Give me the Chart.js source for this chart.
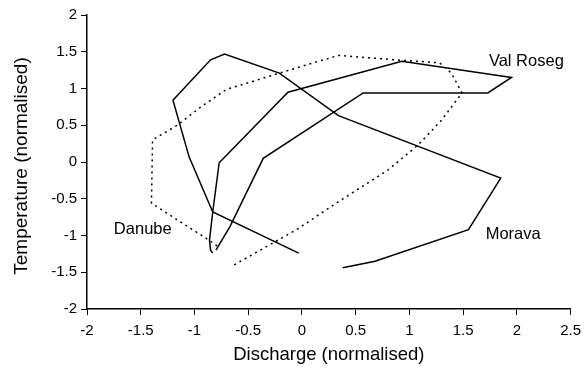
<!DOCTYPE html>
<html><head><meta charset="utf-8">
<script src="https://cdn.jsdelivr.net/npm/chart.js@4/dist/chart.umd.min.js"></script>
<style>html,body{margin:0;padding:0;background:#fff;}#wrap{width:588px;height:378px;}</style>
</head><body><div id="wrap"><canvas id="c" width="588" height="378"></canvas></div>
<script>
// Data (normalised discharge vs normalised temperature)
const moravaX = [-0.03, -0.83, -1.05, -1.20, -0.85, -0.72, -0.21, 0.34, 1.85, 1.55, 0.68, 0.38];
const moravaY = [-1.24, -0.68, 0.07, 0.84, 1.39, 1.47, 1.21, 0.63, -0.22, -0.92, -1.35, -1.44];
const valRosegX = [-0.80, -0.67, -0.36, 0.57, 1.73, 1.95, 0.93, -0.13, -0.77, -0.83, -0.86, -0.85, -0.83];
const valRosegY = [-1.20, -0.88, 0.05, 0.94, 0.94, 1.15, 1.37, 0.95, -0.01, -0.68, -1.06, -1.20, -1.24];
const danubeX = [-0.63, -0.05, 0.34, 0.80, 1.08, 1.30, 1.49, 1.39, 1.28, 0.87, 0.34, -0.05, -0.21, -0.47, -0.70, -0.94, -1.16, -1.39, -1.40, -1.06, -0.91, -0.76];
const danubeY = [-1.40, -0.92, -0.54, -0.11, 0.23, 0.57, 0.94, 1.21, 1.35, 1.39, 1.45, 1.28, 1.21, 1.09, 0.99, 0.75, 0.50, 0.30, -0.56, -0.88, -1.02, -1.17];
const xTickLabels = ['-2', '-1.5', '-1', '-0.5', '0', '0.5', '1', '1.5', '2', '2.5'];
const yTickLabels = ['-2', '-1.5', '-1', '-0.5', '0', '0.5', '1', '1.5', '2'];
const seriesNames = ['Val Roseg', 'Danube', 'Morava'];
const nameX = [1.74, -1.75, 1.71];
const nameY = [1.37, -0.92, -0.99];
const xTitle = 'Discharge (normalised)';
const yTitle = 'Temperature (normalised)';

const toPts = (xs, ys) => xs.map((x, i) => ({x: x, y: ys[i]}));
const FONT = '"Liberation Sans", Arial, Helvetica, sans-serif';

const labelPlugin = {
  id: 'seriesLabels',
  afterDatasetsDraw(chart) {
    const ctx = chart.ctx, xs = chart.scales.x, ys = chart.scales.y;
    ctx.save();
    ctx.font = '16.5px ' + FONT;
    ctx.fillStyle = '#000';
    ctx.textAlign = 'left';
    ctx.textBaseline = 'middle';
    seriesNames.forEach((n, i) => {
      ctx.fillText(n, xs.getPixelForValue(nameX[i]), ys.getPixelForValue(nameY[i]));
    });
    // y axis title
    ctx.font = '19px ' + FONT;
    ctx.textAlign = 'center';
    ctx.translate(22, 166);
    ctx.rotate(-Math.PI / 2);
    ctx.fillText(yTitle, 0, 0);
    ctx.restore();
  }
};

const lineStyle = {showLine: true, pointRadius: 0, borderColor: '#000', borderWidth: 1.5, fill: false, tension: 0};

new Chart(document.getElementById('c'), {
  type: 'scatter',
  data: {
    datasets: [
      Object.assign({label: 'Morava', data: toPts(moravaX, moravaY)}, lineStyle),
      Object.assign({label: 'Val Roseg', data: toPts(valRosegX, valRosegY)}, lineStyle),
      Object.assign({label: 'Danube', data: toPts(danubeX, danubeY), borderDash: [2, 4]}, lineStyle)
    ]
  },
  options: {
    responsive: false,
    animation: false,
    devicePixelRatio: 1,
    layout: {padding: {top: 15, right: 13, left: 0, bottom: 0}},
    plugins: {legend: {display: false}, tooltip: {enabled: false}},
    scales: {
      x: {
        type: 'linear', min: -2, max: 2.5,
        afterBuildTicks: s => { s.ticks = xTickLabels.map(t => ({value: parseFloat(t)})); },
        ticks: {callback: (v, i) => xTickLabels[i], color: '#000', font: {family: FONT, size: 15}, padding: 7, maxRotation: 0, autoSkip: false},
        grid: {drawOnChartArea: false, drawTicks: true, tickLength: 6, color: '#000', lineWidth: 1},
        border: {display: true, color: '#000', width: 1.5},
        title: {display: true, text: xTitle, color: '#000', font: {family: FONT, size: 18.5}, padding: {top: 0, bottom: 12}},
        afterFit: s => { s.height = 69; }
      },
      y: {
        type: 'linear', min: -2, max: 2,
        afterBuildTicks: s => { s.ticks = yTickLabels.map(t => ({value: parseFloat(t)})); },
        ticks: {callback: (v, i) => yTickLabels[i], color: '#000', font: {family: FONT, size: 15}, padding: 4, autoSkip: false},
        grid: {drawOnChartArea: false, drawTicks: true, tickLength: 6, color: '#000', lineWidth: 1},
        border: {display: true, color: '#000', width: 1.5},
        title: {display: false},
        afterFit: s => { s.width = 87; }
      }
    }
  },
  plugins: [labelPlugin]
});
</script>
</body></html>
